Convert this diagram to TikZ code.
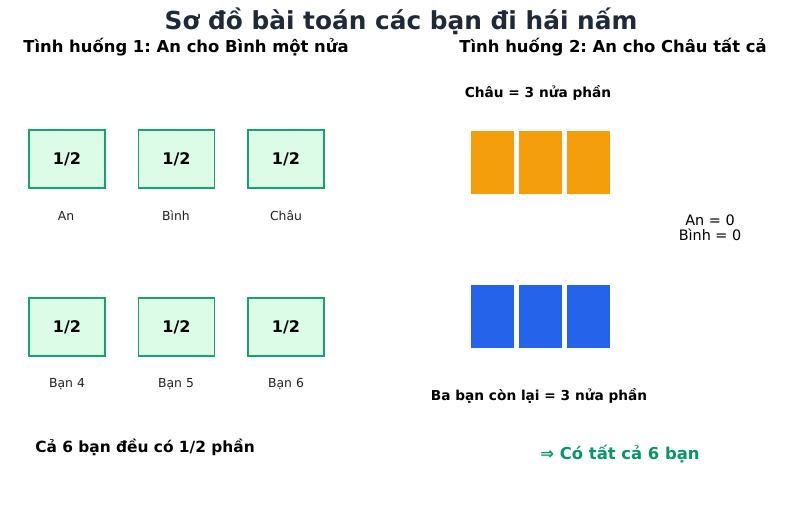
\documentclass[tikz,border=0pt]{standalone}
\usepackage{fontspec}
\setmainfont{DejaVu Sans}
\frenchspacing
\begin{document}
\begin{tikzpicture}[x=1pt,y=-1pt,
  greenbox/.style={draw={rgb,255:red,22;green,163;blue,110}, fill={rgb,255:red,220;green,252;blue,231}, line width=1.5pt, minimum width=76pt, minimum height=58pt, inner sep=0pt, font=\fontsize{16}{18}\selectfont\bfseries},
  lbl/.style={font=\fontsize{12.4}{14}\selectfont, text={rgb,255:red,34;green,34;blue,34}, inner sep=0pt},
  hdr/.style={font=\fontsize{16.4}{18}\selectfont\bfseries, inner sep=0pt},
  smhdr/.style={font=\fontsize{13.7}{16}\selectfont\bfseries, inner sep=0pt},
  orangebox/.style={fill={rgb,255:red,245;green,158;blue,11}, draw=white, line width=0.5pt, minimum width=44pt, minimum height=64pt, inner sep=0pt},
  bluebox/.style={fill={rgb,255:red,37;green,99;blue,235}, draw=white, line width=0.5pt, minimum width=44pt, minimum height=64pt, inner sep=0pt}
]
\useasboundingbox[fill=white] (0,0) rectangle (800,506);
\node[inner sep=0pt, font=\fontsize{24.8}{28}\selectfont\bfseries, text={rgb,255:red,31;green,41;blue,55}] (title) at (401,21) {Sơ đồ bài toán các bạn đi hái nấm};
\node[hdr] (s1) at (186,47) {Tình huống 1: An cho Bình một nửa};
\node[hdr] (s2) at (613,47) {Tình huống 2: An cho Châu tất cả};
% left boxes
\node[greenbox] (b1) at (67,159) {1/2};
\node[greenbox] (b2) at (176.5,159) {1/2};
\node[greenbox] (b3) at (286,159) {1/2};
\node[greenbox] (b4) at (67,327) {1/2};
\node[greenbox] (b5) at (176.5,327) {1/2};
\node[greenbox] (b6) at (286,327) {1/2};
\node[lbl] (l1) at (66,216) {An};
\node[lbl] (l2) at (176,216) {Bình};
\node[lbl] (l3) at (286,216) {Châu};
\node[lbl] (l4) at (67,384) {Bạn 4};
\node[lbl] (l5) at (176,384) {Bạn 5};
\node[lbl] (l6) at (286,384) {Bạn 6};
\node[font=\fontsize{15.4}{18}\selectfont\bfseries, inner sep=0pt] (sum1) at (145,447) {Cả 6 bạn đều có 1/2 phần};
% right side
\node[smhdr] (chau) at (538,93) {Châu = 3 nửa phần};
\node[orangebox] (o1) at (492.5,162.5) {};
\node[orangebox] (o2) at (540.5,162.5) {};
\node[orangebox] (o3) at (588.5,162.5) {};
\node[bluebox] (u1) at (492.5,316.5) {};
\node[bluebox] (u2) at (540.5,316.5) {};
\node[bluebox] (u3) at (588.5,316.5) {};
\node[inner sep=0pt, font=\fontsize{14.4}{15.5}\selectfont, align=center] (zero) at (710,228) {An = 0\\Bình = 0};
\node[smhdr] (ba) at (539,396) {Ba bạn còn lại = 3 nửa phần};
\node[inner sep=0pt, font=\fontsize{16.4}{18}\selectfont\bfseries, text={rgb,255:red,5;green,150;blue,105}] (res) at (620,454) {⇒ Có tất cả 6 bạn};
\end{tikzpicture}
\end{document}
